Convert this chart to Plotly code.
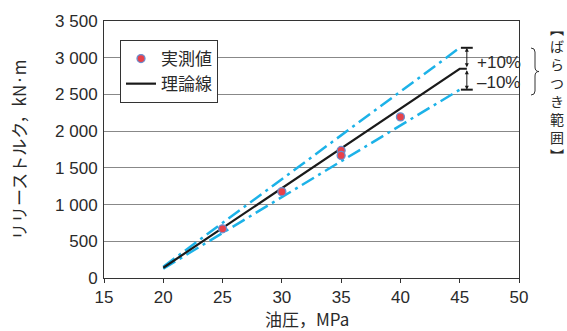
import plotly.graph_objects as go

# Data
meas_x = [25, 30, 35, 35, 40]
meas_y = [670, 1176, 1737, 1669, 2194]
theory_x = [20, 45, 45.6]
theory_y = [140, 2850, 2850]
band_x = [20, 45]
upper_y = [154, 3135]
lower_y = [126, 2565]
ytick_vals = [0, 500, 1000, 1500, 2000, 2500, 3000, 3500]
ytick_text = ["0", "500", "1 000", "1 500", "2 000", "2 500", "3 000", "3 500"]
xtick_vals = [15, 20, 25, 30, 35, 40, 45, 50]
vert_chars = ["︻", "ば", "ら", "つ", "き", "範", "囲", "︼"]

W, H = 567, 331
L, R, T, B = 104, 48, 21, 53
PW, PH = W - L - R, H - T - B


def px(xp):
    return (xp - L) / PW


def py(yp):
    return (H - B - yp) / PH


FONT = "Liberation Sans, Arial, Noto Sans CJK JP"
JFONT = "Noto Sans CJK JP"
CYAN = "#1cb2e8"
TXT = "#2a2a2a"

fig = go.Figure()
fig.add_trace(go.Scatter(x=band_x, y=upper_y, mode="lines", showlegend=False,
                         line=dict(color=CYAN, width=2.5, dash="14px,5px,3px,5px")))
fig.add_trace(go.Scatter(x=band_x, y=lower_y, mode="lines", showlegend=False,
                         line=dict(color=CYAN, width=2.5, dash="14px,5px,3px,5px")))
fig.add_trace(go.Scatter(x=theory_x, y=theory_y, mode="lines", name="理論線",
                         line=dict(color="#1a1a1a", width=2.2)))
fig.add_trace(go.Scatter(x=meas_x, y=meas_y, mode="markers", name="実測値",
                         marker=dict(color="#e8414a", size=8,
                                     line=dict(color="#6a8fd0", width=1.3))))

# Range brackets (I-beam)
xb = 45.6
for yv in [upper_y[-1], lower_y[-1]]:
    fig.add_shape(type="line", xref="x", yref="y", x0=xb - 0.5, x1=xb + 0.5,
                  y0=yv, y1=yv, line=dict(color="#1a1a1a", width=2))
for y0, y1 in [(theory_y[-1], upper_y[-1]), (theory_y[-1], lower_y[-1])]:
    fig.add_annotation(x=xb, y=y1, ax=xb, ay=y0, xref="x", yref="y",
                       axref="x", ayref="y", text="", showarrow=True,
                       arrowhead=2, arrowsize=0.8, arrowwidth=1,
                       arrowside="end+start", arrowcolor="#1a1a1a")

fig.add_annotation(x=px(475), y=py(62), xref="paper", yref="paper",
                   text="+10%", showarrow=False, xanchor="left", yanchor="middle",
                   font=dict(family=FONT, size=17, color=TXT))
fig.add_annotation(x=px(475), y=py(82), xref="paper", yref="paper",
                   text="–10%", showarrow=False, xanchor="left", yanchor="middle",
                   font=dict(family=FONT, size=17, color=TXT))

# Brace
pts = [(531, 48), (535, 48), (535, 52), (535, 67), (535, 71.5), (539, 71.5),
       (535, 71.5), (535, 76), (535, 91), (535, 95), (531, 95)]
P = [(px(a), py(b)) for a, b in pts]
path = (f"M {P[0][0]},{P[0][1]} Q {P[1][0]},{P[1][1]} {P[2][0]},{P[2][1]} "
        f"L {P[3][0]},{P[3][1]} Q {P[4][0]},{P[4][1]} {P[5][0]},{P[5][1]} "
        f"Q {P[6][0]},{P[6][1]} {P[7][0]},{P[7][1]} "
        f"L {P[8][0]},{P[8][1]} Q {P[9][0]},{P[9][1]} {P[10][0]},{P[10][1]}")
fig.add_shape(type="path", xref="paper", yref="paper", path=path,
              line=dict(color="#333", width=1))

# Vertical caption (single text block, one character per line)
fig.add_annotation(x=px(557), y=py(16), xref="paper", yref="paper",
                   text="<br>".join(vert_chars), showarrow=False,
                   xanchor="center", yanchor="top", align="center",
                   font=dict(family=JFONT, size=14, color=TXT))

# Axis titles
fig.add_annotation(x=px(307), y=py(318), xref="paper", yref="paper",
                   text="油圧，MPa", showarrow=False, xanchor="center",
                   yanchor="middle", font=dict(family=JFONT, size=17, color=TXT))
fig.add_annotation(x=px(18), y=py(150), xref="paper", yref="paper",
                   text="リリーストルク，kN·m", showarrow=False, textangle=-90,
                   xanchor="center", yanchor="middle",
                   font=dict(family=JFONT, size=17, color=TXT))

fig.update_layout(
    width=W, height=H,
    margin=dict(l=L, r=R, t=T, b=B, autoexpand=False),
    paper_bgcolor="white", plot_bgcolor="white",
    font=dict(family=FONT, size=17, color=TXT),
    legend=dict(x=px(120), y=py(40), xanchor="left", yanchor="top",
                bgcolor="white", bordercolor="#333", borderwidth=1,
                font=dict(family=JFONT, size=17, color=TXT),
                traceorder="reversed", itemwidth=30, tracegroupgap=0),
    xaxis=dict(range=[15, 50], tickvals=xtick_vals, showgrid=False,
               showline=True, linecolor="#333", linewidth=1, mirror=True,
               ticks="outside", ticklen=4, tickcolor="#333", automargin=False,
               tickfont=dict(family=FONT, size=17, color=TXT),
               zeroline=False, fixedrange=True),
    yaxis=dict(range=[0, 3500], tickvals=ytick_vals, ticktext=ytick_text,
               showgrid=True, gridcolor="#888", gridwidth=1, automargin=False,
               showline=True, linecolor="#333", linewidth=1, mirror=True,
               ticks="", ticklabelstandoff=2,
               tickfont=dict(family=FONT, size=17, color=TXT),
               zeroline=False, fixedrange=True),
)

fig.write_html("out.html", config={"displayModeBar": False},
               post_script="document.body.style.margin='0';"
                           "document.body.style.overflow='hidden';")
